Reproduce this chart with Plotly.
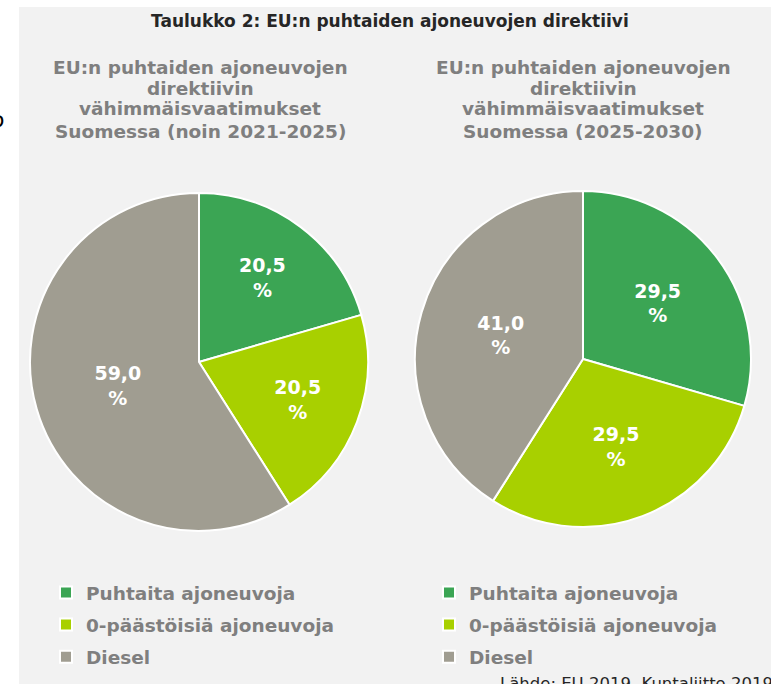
import plotly.graph_objects as go

W, H = 771, 684

categories = ["Puhtaita ajoneuvoja", "0-päästöisiä ajoneuvoja", "Diesel"]
values_2021_2025 = [20.5, 20.5, 59.0]
values_2025_2030 = [29.5, 29.5, 41.0]
colors = ["#3BA554", "#A8D000", "#A09D91"]

title_main = "Taulukko 2: EU:n puhtaiden ajoneuvojen direktiivi"
subtitle_1 = ["EU:n puhtaiden ajoneuvojen", "direktiivin", "vähimmäisvaatimukset", "Suomessa (noin 2021-2025)"]
subtitle_2 = ["EU:n puhtaiden ajoneuvojen", "direktiivin", "vähimmäisvaatimukset", "Suomessa (2025-2030)"]
source = "Lähde: EU 2019, Kuntaliitto 2019"

FONT = "DejaVu Sans"
GRAYTXT = "#7F7F7F"


def fx(px):
    return px / W


def fy(py):
    return 1 - py / H


def fmt(v):
    return ("%.1f" % v).replace(".", ",") + "<br>%"


fig = go.Figure()

for vals, dom in [
    (values_2021_2025, dict(x=[fx(30), fx(368)], y=[fy(531), fy(193)])),
    (values_2025_2030, dict(x=[fx(415), fx(751)], y=[fy(527), fy(191)])),
]:
    fig.add_trace(go.Pie(
        labels=categories, values=vals,
        text=[fmt(v) for v in vals], textinfo="text",
        textposition="inside", insidetextorientation="horizontal",
        textfont=dict(family=FONT, size=19, color="white", weight="bold"),
        marker=dict(colors=colors, line=dict(color="white", width=2)),
        sort=False, direction="clockwise", rotation=0,
        domain=dom, showlegend=False, hoverinfo="label+percent",
    ))

# legend entries (one set per pie)
for leg in ["legend", "legend2"]:
    for i, (cat, col) in enumerate(zip(categories, colors)):
        fig.add_trace(go.Scatter(
            x=[None], y=[None], mode="markers", name=cat,
            marker=dict(symbol="square", size=9, color=col,
                        line=dict(color="white", width=1.5)),
            legend=leg, legendgroup=leg + str(i), showlegend=True,
            hoverinfo="skip",
        ))

legend_common = dict(
    font=dict(family=FONT, size=18.5, color=GRAYTXT, weight="bold"),
    bgcolor="rgba(0,0,0,0)", orientation="v",
    xanchor="left", yanchor="top", tracegroupgap=5,
    itemsizing="constant",
)

annotations = [
    dict(text=title_main, x=fx(390), y=fy(21), xref="paper", yref="paper",
         showarrow=False, xanchor="center", yanchor="middle",
         font=dict(family=FONT, size=17, color="#262626", weight="bold")),
    dict(text="o", x=fx(-3), y=fy(119), xref="paper", yref="paper",
         showarrow=False, xanchor="center", yanchor="middle",
         font=dict(family=FONT, size=22, color="black")),
    dict(text=source, x=fx(498), y=fy(683), xref="paper", yref="paper",
         showarrow=False, xanchor="left", yanchor="middle",
         font=dict(family=FONT, size=16.5, color="#262626")),
]
line_y = [67, 88, 109, 131]
for lines, cx in [(subtitle_1, 200), (subtitle_2, 583)]:
    for txt, ly in zip(lines, line_y):
        annotations.append(dict(
            text=txt, x=fx(cx), y=fy(ly), xref="paper", yref="paper",
            showarrow=False, xanchor="center", yanchor="middle",
            font=dict(family=FONT, size=18.5, color=GRAYTXT, weight="bold")))

fig.update_layout(
    width=W, height=H,
    margin=dict(l=0, r=0, t=0, b=0),
    paper_bgcolor="white", plot_bgcolor="rgba(0,0,0,0)",
    showlegend=True,
    xaxis=dict(visible=False), yaxis=dict(visible=False),
    legend=dict(x=fx(46), y=fy(574), **legend_common),
    legend2=dict(x=fx(429), y=fy(574), **legend_common),
    shapes=[dict(type="rect", xref="paper", yref="paper",
                 x0=fx(19), x1=1, y0=0, y1=fy(7),
                 fillcolor="#F2F2F2", line=dict(width=0), layer="below")],
    annotations=annotations,
)

fig.write_html("out.html", config={"displayModeBar": False},
               post_script="document.body.style.margin='0';")
